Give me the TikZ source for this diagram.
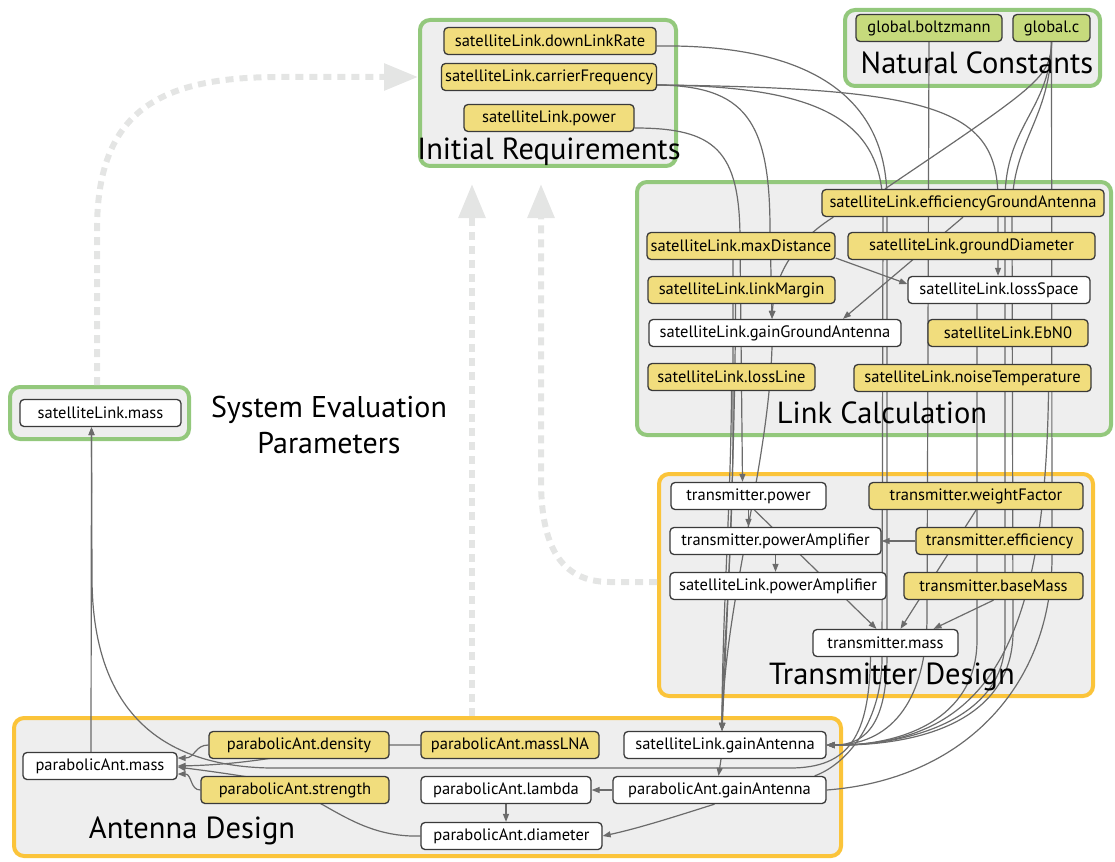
\documentclass[tikz,border=0pt]{standalone}
\usepackage{fontspec}
\setmainfont{PT Sans}
\usetikzlibrary{arrows.meta,calc}

\definecolor{grpfill}{HTML}{EEEEEE}
\definecolor{grpgreen}{HTML}{93C87C}
\definecolor{grporange}{HTML}{FBC43A}
\definecolor{varyellow}{HTML}{F1DD7D}
\definecolor{constgreen}{HTML}{C6DA7C}
\definecolor{edgegray}{HTML}{6B6B6B}
\definecolor{flowgray}{HTML}{E4E5E4}
\definecolor{boxline}{HTML}{3A3A3A}

\pgfdeclarelayer{groups}
\pgfdeclarelayer{edges}
\pgfsetlayers{groups,edges,main}

\tikzset{
  var/.style={draw=boxline, line width=1.3pt, rounded corners=4pt,
    minimum height=27pt, inner sep=1pt, font=\fontsize{16.5}{19}\selectfont},
  given/.style={var, fill=varyellow},
  derived/.style={var, fill=white},
  constant/.style={var, fill=constgreen},
  greengroup/.style={draw=grpgreen, fill=grpfill, line width=4pt, rounded corners=10pt, inner sep=0pt},
  orangegroup/.style={draw=grporange, fill=grpfill, line width=4pt, rounded corners=10pt, inner sep=0pt},
  grouptitle/.style={font=\fontsize{30.5}{36}\selectfont, inner sep=0pt},
  dep/.style={draw=edgegray, line width=1.2pt},
  deparrow/.style={dep, -{Triangle[length=8pt,width=6pt]}},
  flow/.style={draw=flowgray, line width=6pt, dash pattern=on 8pt off 6pt,
    -{Triangle[length=34pt,width=26pt]}},
}

\begin{document}
\begin{tikzpicture}[x=1pt,y=-1pt]
\useasboundingbox (0,0) rectangle (1115,861);

% ---------- groups ----------
\begin{pgfonlayer}{groups}
\node[greengroup, minimum width=256pt, minimum height=146pt] (grpIR) at (548,93) {};
\node[greengroup, minimum width=255pt, minimum height=76pt] (grpNC) at (972.5,48) {};
\node[greengroup, minimum width=474pt, minimum height=253pt] (grpLC) at (874,308.5) {};
\node[orangegroup, minimum width=434pt, minimum height=222pt] (grpTD) at (876,585) {};
\node[orangegroup, minimum width=827pt, minimum height=138pt] (grpAD) at (427.5,787) {};
\node[greengroup, minimum width=179pt, minimum height=52pt] (grpSE) at (99.5,413) {};
\end{pgfonlayer}

\node[grouptitle] (tIR) at (549,152) {Initial Requirements};
\node[grouptitle] (tNC) at (977,63) {Natural Constants};
\node[grouptitle] (tLC) at (882,413) {Link Calculation};
\node[grouptitle] (tTD) at (892,677) {Transmitter Design};
\node[grouptitle] (tAD) at (192,831) {Antenna Design};
\node[font=\fontsize{30}{36}\selectfont, align=center, inner sep=0pt] (tSE) at (329,425)
  {System Evaluation\\Parameters};

% ---------- variables ----------
\node[given, minimum width=212pt] (dlr) at (550,41) {satelliteLink.downLinkRate};
\node[given, minimum width=215pt] (cf) at (549,77) {satelliteLink.carrierFrequency};
\node[given, minimum width=170pt] (pw) at (549,118) {satelliteLink.power};
\node[constant, minimum width=146pt] (boltz) at (929,28) {global.boltzmann};
\node[constant, minimum width=77pt] (gc) at (1051.5,28) {global.c};
\node[given, minimum width=282pt] (ega) at (963,203) {satelliteLink.efficiencyGroundAntenna};
\node[given, minimum width=188pt] (md) at (741,246) {satelliteLink.maxDistance};
\node[given, minimum width=247pt] (gd) at (971.5,246) {satelliteLink.groundDiameter};
\node[given, minimum width=187pt] (lm) at (741.5,290) {satelliteLink.linkMargin};
\node[derived, minimum width=182pt] (ls) at (999,290) {satelliteLink.lossSpace};
\node[derived, minimum width=252pt] (gga) at (775,333) {satelliteLink.gainGroundAntenna};
\node[given, minimum width=160pt] (ebn) at (1008,333) {satelliteLink.EbN0};
\node[given, minimum width=167pt] (ll) at (731.5,377) {satelliteLink.lossLine};
\node[given, minimum width=237pt] (nt) at (972.5,378) {satelliteLink.noiseTemperature};
\node[derived, minimum width=155pt] (tp) at (748.5,496) {transmitter.power};
\node[given, minimum width=214pt] (wf) at (976,496) {transmitter.weightFactor};
\node[derived, minimum width=211pt] (tpa) at (775.5,541) {transmitter.powerAmplifier};
\node[given, minimum width=167pt] (te) at (999.5,541) {transmitter.efficiency};
\node[derived, minimum width=216pt] (spa) at (778,586) {satelliteLink.powerAmplifier};
\node[given, minimum width=179pt] (bm) at (993.5,586) {transmitter.baseMass};
\node[derived, minimum width=145pt] (tm) at (885.5,643) {transmitter.mass};
\node[derived, minimum width=154pt] (pm) at (100,766) {parabolicAnt.mass};
\node[given, minimum width=180pt] (pd) at (299,745) {parabolicAnt.density};
\node[given, minimum width=178pt] (pmlna) at (510,745) {parabolicAnt.massLNA};
\node[derived, minimum width=202pt] (sga) at (725,745) {satelliteLink.gainAntenna};
\node[given, minimum width=188pt] (ps) at (295,790) {parabolicAnt.strength};
\node[derived, minimum width=170pt] (pl) at (506,790) {parabolicAnt.lambda};
\node[derived, minimum width=213pt] (pga) at (719.5,790) {parabolicAnt.gainAntenna};
\node[derived, minimum width=181pt] (pdi) at (511.5,836) {parabolicAnt.diameter};
\node[derived, minimum width=161pt] (slm) at (100.5,413) {satelliteLink.mass};

\begin{pgfonlayer}{edges}
% ---------- flow between the groups ----------
\draw[flow] ($(grpSE.north)+(-2.5,0)$) -- (97,230) .. controls (97,110) and (160,77) .. (280,77)
  -- (grpIR.west |- cf.west);
\draw[flow] ($(grpAD.north)+(44.5,0)$) -- ($(grpIR.south)+(-76,16)$);
\draw[flow] (grpTD.west |- 0,582) -- (610,582) .. controls (560,582) and (541,545) .. (541,480)
  -- ($(grpIR.south)+(-7,16)$);

% ---------- dependencies ----------
% requirements
\draw[deparrow] ($(dlr.east)+(0,5)$) .. controls (800,44) and (887,90) .. (887,200)
  -- (887,655) .. controls (887,720) and (868,745) .. (sga.east);
\draw[dep] ($(cf.east)+(0,8)$) .. controls (820,86) and (883,120) .. (883,210)
  -- (882,660) .. controls (881,725) and (845,765) .. ($(pga.north east)+(-12,0)$);
\draw[deparrow] ($(cf.east)+(0,8)$) .. controls (745,86) and (770,120) .. (770,230)
  -- ($(gga.north)+(-3,0)$);
\draw[deparrow] ($(cf.east)+(0,8)$) .. controls (940,88) and (998,110) .. (998,200)
  -- ($(ls.north)+(-1,0)$);
\draw[deparrow] ($(pw.east)+(0,10)$) .. controls (715,128) and (740,150) .. (740,240)
  -- ($(tp.north)+(-6,0)$);
% constants
\draw[deparrow] (boltz.south) -- (927,620) .. controls (925,715) and (880,745) .. (sga.east);
\draw[dep] (gc.south) -- (1052,560) .. controls (1050,690) and (960,780) .. (pga.east);
\draw[dep] (gc.south) .. controls (1050,78) and (1040,84) .. ($(ega.north)+(-78,0)$);
\draw[deparrow] (gc.south) .. controls (1050,110) and (1005,125) .. (1005,200)
  -- (1005,640) .. controls (1005,720) and (905,746) .. (sga.east);
\draw[deparrow] (gc.south) .. controls (1051,120) and (1012,140) .. (1012,210)
  -- (1013,630) .. controls (1014,715) and (930,746) .. (sga.east);
% link calculation
\draw[deparrow] ($(ega.south west)+(12,0)$) .. controls (805,235) and (775,265) .. ($(gga.north)+(-3,0)$);
\draw[deparrow] (ega.south) -- ($(gga.north)+(68,0)$);
\draw[deparrow] ($(md.east)+(0,12)$) -- ($(ls.west)+(0,-6)$);
\draw[deparrow] ($(md.south)+(-8,0)$) -- (733,420) .. controls (733,560) and (722,660) .. ($(sga.north)+(-3,0)$);
\draw[deparrow] ($(lm.south)+(-6,0)$) .. controls (735,450) and (728,600) .. ($(sga.north)+(-3,0)$);
\draw[deparrow] (ll.south) .. controls (731,500) and (722,620) .. ($(sga.north)+(-3,0)$);
\draw[deparrow] ($(gga.south)+(-3,0)$) .. controls (768,470) and (725,600) .. ($(sga.north)+(-3,0)$);
\draw[deparrow] ($(ls.south)+(-22,0)$) -- (977,640) .. controls (977,720) and (900,746) .. (sga.east);
\draw[deparrow] ($(nt.south)+(76,0)$) .. controls (1045,640) and (990,746) .. (sga.east);
% transmitter
\draw[deparrow] (tp.south) -- (tp.south |- tpa.north);
\draw[deparrow] (tpa.south) -- (tpa.south |- spa.north);
\draw[deparrow] (te.west) -- (tpa.east);
\draw[deparrow] ($(tp.south)+(6,0)$) -- ($(tm.north)+(-9,0)$);
\draw[deparrow] (wf.south) -- ($(tm.north)+(15,0)$);
\draw[deparrow] (bm.south) -- ($(tm.north)+(48,0)$);
% system evaluation
\draw[deparrow] ($(tm.south)+(-15,0)$) .. controls (869,735) and (850,768) .. (790,768)
  -- (270,768) .. controls (150,766) and (93,700) .. (92,580) -- ($(slm.south)+(-9,0)$);
\draw[deparrow] ($(pm.north)+(-9,0)$) -- ($(slm.south)+(-9,0)$);
% antenna
\draw[deparrow] ($(sga.south)+(-4,0)$) -- ($(pga.north)+(-1,0)$);
\draw[deparrow] (pga.west) -- (pl.east);
\draw[deparrow] (pl.south) -- (pl.south |- pdi.north);
\draw[deparrow] ($(pga.south)+(-5,0)$) .. controls (680,815) and (640,828) .. (pdi.east);
\draw[deparrow] (pmlna.west) -- (369,745) .. controls (320,746) and (270,764) .. (pm.east);
\draw[deparrow] (pd.west) .. controls (195,745) and (195,758) .. ($(pm.east)+(0,-8)$);
\draw[deparrow] (ps.west) .. controls (190,790) and (192,774) .. ($(pm.east)+(0,8)$);
\draw[deparrow] (pdi.west) .. controls (350,838) and (320,790) .. (260,779)
  .. controls (225,773) and (200,770) .. ($(pm.east)+(0,1)$);
\end{pgfonlayer}
\end{tikzpicture}
\end{document}
